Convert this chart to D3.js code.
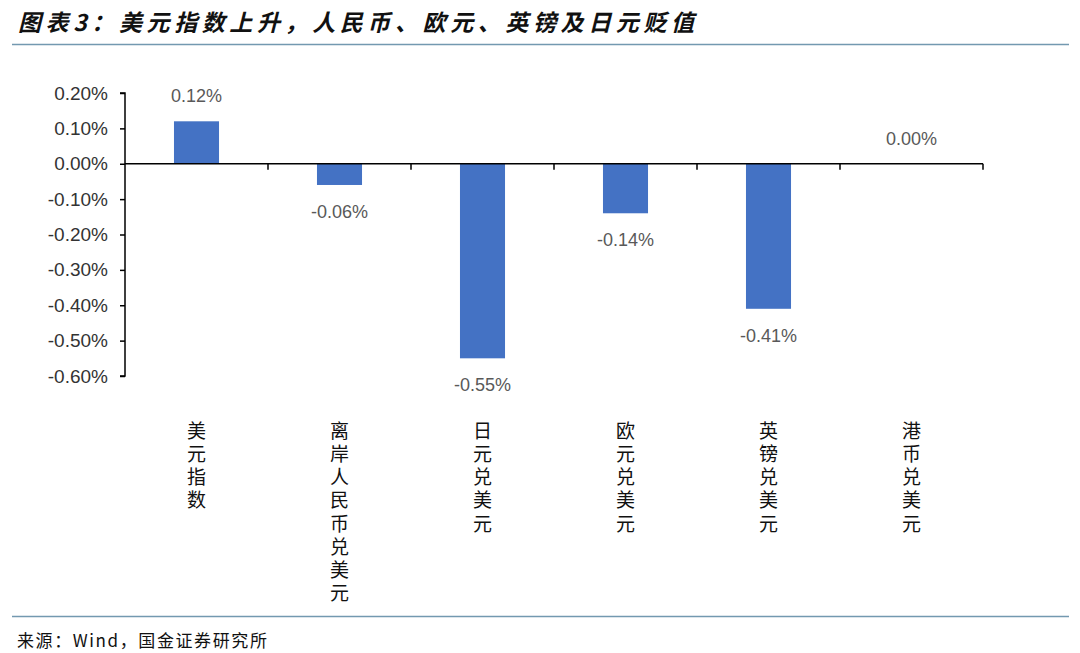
<!DOCTYPE html>
<html>
<head>
<meta charset="utf-8">
<script src="https://cdn.jsdelivr.net/npm/d3@7"></script>
<style>
  body{margin:0;background:#fff;}
  svg{display:block;}
</style>
</head>
<body>
<svg width="1080" height="653"></svg>
<script>
// data
const categories=['美元指数','离岸人民币兑美元','日元兑美元','欧元兑美元','英镑兑美元','港币兑美元'];
const changes=[0.12,-0.06,-0.55,-0.14,-0.41,0.00];   // % change
const yTicks=[0.20,0.10,0.00,-0.10,-0.20,-0.30,-0.40,-0.50,-0.60];

const svg=d3.select('svg');
const width=+svg.attr('width');
const margin={top:93,left:125,right:97,bottom:277};
const plotH=653-margin.top-margin.bottom;

const cjk="'Noto Sans CJK SC','Noto Sans',sans-serif";
const num="'Liberation Sans',Arial,sans-serif";
const pct=v=>d3.format('.2f')(v).replace('\u2212','-')+'%';

// title + rules
svg.append('text')
   .attr('x',18).attr('y',31)
   .attr('font-family',cjk).attr('font-size',23).attr('font-weight',600)
   .attr('font-style','italic').attr('letter-spacing',4.6).attr('fill','#111')
   .text('图表3：美元指数上升，人民币、欧元、英镑及日元贬值');
svg.append('line').attr('x1',12).attr('x2',1069).attr('y1',44.5).attr('y2',44.5)
   .attr('stroke','#7399b0').attr('stroke-width',1.5);
svg.append('line').attr('x1',12).attr('x2',1069).attr('y1',616.5).attr('y2',616.5)
   .attr('stroke','#7399b0').attr('stroke-width',1.5);
svg.append('text')
   .attr('x',17).attr('y',647)
   .attr('font-family',cjk).attr('font-size',17).attr('letter-spacing',1.6).attr('fill','#111')
   .text('来源：Wind，国金证券研究所');

const x=d3.scaleBand().domain(categories).range([margin.left,width-margin.right]);
const y=d3.scaleLinear().domain([-0.60,0.20]).range([margin.top+plotH,margin.top]);

const g=svg.append('g');

// bars
const barW=x.bandwidth()*0.315;
g.selectAll('rect.bar')
 .data(categories)
 .enter().append('rect')
 .attr('class','bar')
 .attr('x',(d)=>x(d)+x.bandwidth()/2-barW/2)
 .attr('width',barW)
 .attr('y',(d,i)=>y(Math.max(0,changes[i])))
 .attr('height',(d,i)=>Math.abs(y(changes[i])-y(0)))
 .attr('fill','#4472c4');

// y axis
const yAxis=g.append('g')
  .attr('transform',`translate(${margin.left},0)`)
  .call(d3.axisLeft(y).tickValues(yTicks).tickSize(5).tickPadding(12).tickFormat(pct));
yAxis.select('.domain').attr('stroke','#000').attr('stroke-width',1.5)
     .attr('d',`M-5,${y(0.20)}H0V${y(-0.60)}H-5`);
yAxis.selectAll('.tick line').attr('stroke','#000').attr('stroke-width',1.5);
yAxis.selectAll('.tick text').attr('font-family',num).attr('font-size',19).attr('fill','#333');

// x axis along zero
const xAxis=g.append('g')
  .attr('transform',`translate(0,${y(0)})`);
xAxis.append('line').attr('x1',margin.left).attr('x2',width-margin.right)
     .attr('stroke','#000').attr('stroke-width',1.5);
const bounds=categories.map(c=>x(c)+x.bandwidth());
xAxis.selectAll('line.tk').data(bounds).enter().append('line')
     .attr('class','tk')
     .attr('x1',d=>d).attr('x2',d=>d).attr('y1',0).attr('y2',6)
     .attr('stroke','#000').attr('stroke-width',1.5);

// value labels
g.selectAll('text.val')
 .data(categories)
 .enter().append('text')
 .attr('class','val')
 .attr('x',d=>x(d)+x.bandwidth()/2)
 .attr('y',(d,i)=>changes[i]>=0 ? y(changes[i])-19 : y(changes[i])+33)
 .attr('text-anchor','middle')
 .attr('font-family',num).attr('font-size',18).attr('fill','#595959')
 .text((d,i)=>pct(changes[i]));

// vertical category labels, one text each, set upright in a column
g.selectAll('text.cat')
 .data(categories)
 .enter().append('text')
 .attr('class','cat')
 .attr('x',d=>x(d)+x.bandwidth()/2)
 .attr('y',421)
 .style('writing-mode','vertical-rl')
 .style('text-orientation','upright')
 .attr('letter-spacing',4.2)
 .attr('font-family',cjk).attr('font-size',19).attr('fill','#111')
 .text(d=>d);
</script>
</body>
</html>
